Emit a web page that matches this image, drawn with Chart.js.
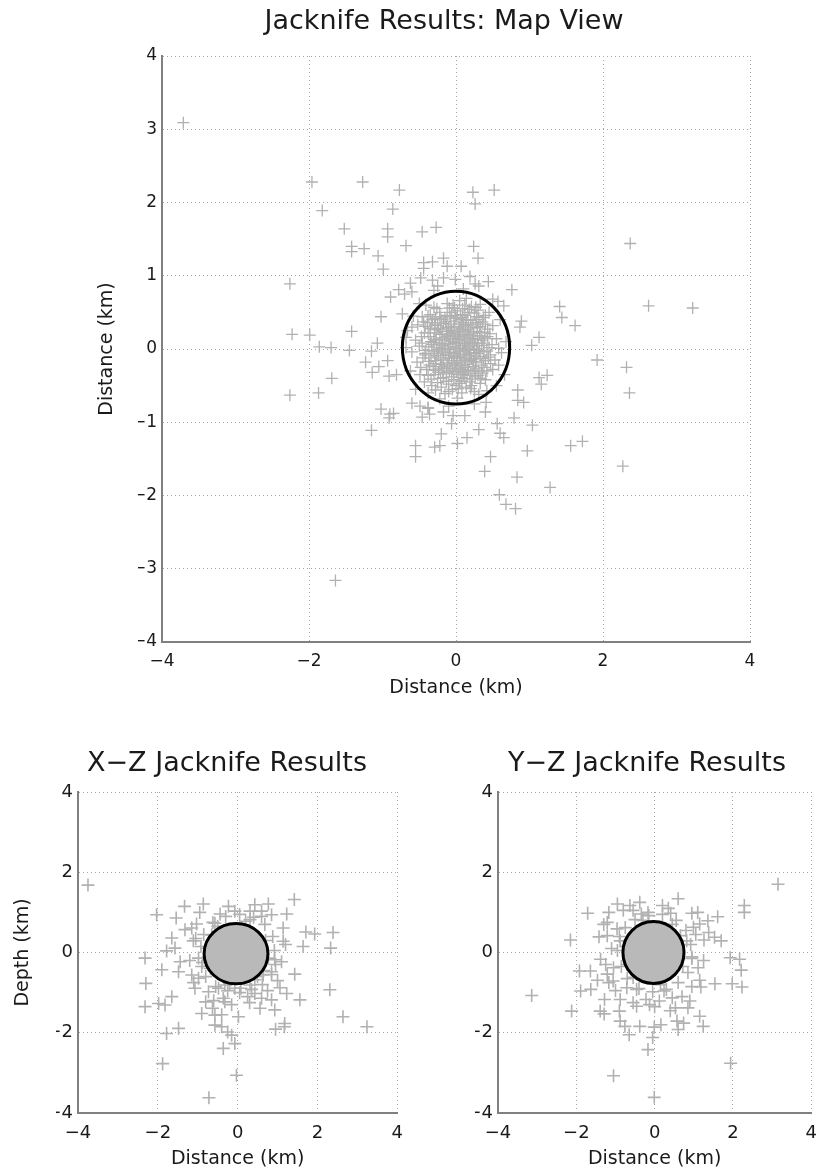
<!DOCTYPE html>
<html>
<head>
<meta charset="utf-8">
<title>Jacknife Results</title>
<script src="https://cdn.jsdelivr.net/npm/chart.js@4.4.0/dist/chart.umd.min.js"></script>
<style>
  html, body { margin: 0; padding: 0; background: #fff; overflow: hidden; width: 827px; height: 1172px; }
  canvas { position: absolute; }
</style>
</head>
<body>
<canvas id="map" width="827" height="720" style="left:0px;top:0px"></canvas>
<canvas id="xz" width="413" height="442" style="left:0px;top:730px"></canvas>
<canvas id="yz" width="414" height="442" style="left:413px;top:730px"></canvas>
<script>
// jacknife relocations, km from the reference hypocentre

// map view: [east, north]
const mapOutliers = [
  [-3.71,3.09],[-1.96,2.28],[-1.27,2.28],[-0.77,2.17],[0.23,2.14],[0.52,2.17],[0.26,1.98],[-1.82,1.89],
  [-0.86,1.91],[-1.52,1.64],[-0.93,1.64],[-0.93,1.53],[-0.46,1.60],[-0.27,1.66],[-1.42,1.40],[-1.25,1.37],
  [-1.42,1.33],[-0.68,1.41],[-1.06,1.27],[-0.99,1.09],[0.24,1.40],[0.30,1.24],[2.37,1.44],[-2.26,0.89],
  [2.62,0.59],[3.22,0.56],[1.41,0.58],[1.44,0.43],[1.62,0.32],[-2.23,0.20],[-1.99,0.19],[-1.42,0.24],
  [-1.86,0.03],[-1.70,0.02],[-1.45,-0.02],[-1.02,0.44],[-1.07,0.08],[-1.15,-0.03],[-1.23,-0.18],[-1.05,-0.24],
  [-1.14,-0.32],[-1.69,-0.40],[-2.26,-0.63],[-1.87,-0.60],[1.92,-0.15],[2.32,-0.25],[2.36,-0.60],[1.13,0.16],
  [1.03,0.05],[1.24,-0.36],[1.13,-0.39],[1.16,-0.48],[0.89,0.38],[0.87,0.30],[0.76,0.81],[0.44,0.92],
  [0.84,-0.56],[0.84,-0.70],[0.92,-0.73],[0.79,-0.94],[1.04,-1.04],[0.97,-1.39],[1.56,-1.32],[1.72,-1.26],
  [2.27,-1.60],[1.28,-1.89],[0.83,-1.75],[0.39,-1.67],[0.47,-1.47],[0.59,-1.99],[0.68,-2.12],[0.81,-2.18],
  [0.60,-1.15],[0.65,-1.21],[0.56,-1.02],[0.40,-0.86],[0.31,-1.10],[0.15,-1.21],[0.02,-1.29],[0.12,-0.91],
  [-0.06,-1.02],[-0.20,-1.16],[-0.22,-1.32],[-0.29,-1.34],[-0.55,-1.32],[-0.55,-1.47],[-1.15,-1.11],[-1.02,-0.82],
  [-0.90,-0.89],[-0.85,-0.88],[-0.91,-0.94],[-0.60,-0.74],[-0.49,-0.78],[-0.38,-0.81],[-0.36,-0.89],[-0.46,-0.93],
  [-0.17,-0.86],[-0.04,-0.91],[0.41,-0.73],[-0.81,-0.35],[-0.91,-0.37],[-0.93,-0.16],[-0.68,0.16],[-0.73,0.48],
  [-0.70,0.75],[-0.89,0.71],[-0.78,0.81],[-0.60,0.78],[-0.62,0.90],[-0.48,0.97],[-0.44,1.10],[-0.44,1.18],
  [-0.32,1.19],[-0.17,1.24],[-0.12,1.13],[0.07,1.13],[-0.01,0.95],[-0.17,0.97],[-0.32,0.94],[-0.25,0.86],
  [0.19,0.99],[0.26,0.89],[0.31,0.86],[0.57,0.65],[0.65,0.59],[-0.60,0.30],[-1.64,-3.16]
];
const mapCore = [
  [-0.12,0.62],[0.05,0.66],[0.21,0.58],[-0.30,0.57],[0.14,0.69],[-0.02,0.56],[0.33,0.61],[-0.41,0.60],
  [-0.35,0.47],[-0.22,0.50],[-0.08,0.44],[0.02,0.52],[0.12,0.46],[0.25,0.49],[0.37,0.43],[-0.15,0.41],
  [0.07,0.40],[0.30,0.53],[-0.46,0.44],[0.45,0.50],[-0.28,0.42],[0.18,0.54],
  [-0.42,0.31],[-0.33,0.36],[-0.24,0.28],[-0.17,0.35],[-0.10,0.29],[-0.03,0.38],[0.04,0.30],[0.10,0.36],
  [0.17,0.27],[0.23,0.34],[0.29,0.29],[0.36,0.37],[0.43,0.27],[-0.52,0.33],[0.50,0.32],[-0.06,0.25],
  [0.13,0.26],[-0.29,0.26],
  [-0.47,0.17],[-0.38,0.22],[-0.30,0.13],[-0.22,0.20],[-0.15,0.12],[-0.08,0.21],[-0.01,0.14],[0.06,0.20],
  [0.12,0.11],[0.19,0.18],[0.26,0.13],[0.32,0.22],[0.39,0.15],[0.46,0.21],[-0.55,0.12],[0.55,0.14],
  [-0.12,0.24],[0.02,0.23],[0.16,0.24],[-0.34,0.10],
  [-0.50,0.04],[-0.41,-0.02],[-0.33,0.06],[-0.26,-0.01],[-0.19,0.05],[-0.11,0.00],[-0.04,0.07],[0.03,-0.03],
  [0.09,0.05],[0.15,-0.02],[0.22,0.07],[0.28,0.00],[0.35,0.05],[0.42,-0.03],[0.49,0.06],[-0.60,-0.04],
  [0.58,0.01],[-0.07,-0.05],[0.19,0.09],[-0.22,0.08],
  [-0.45,-0.12],[-0.37,-0.17],[-0.29,-0.09],[-0.21,-0.15],[-0.14,-0.08],[-0.06,-0.16],[0.01,-0.10],[0.08,-0.18],
  [0.14,-0.07],[0.21,-0.14],[0.27,-0.19],[0.33,-0.10],[0.40,-0.16],[0.47,-0.08],[-0.53,-0.18],[0.53,-0.15],
  [-0.02,-0.20],[0.11,-0.12],
  [-0.40,-0.28],[-0.31,-0.24],[-0.24,-0.32],[-0.16,-0.26],[-0.09,-0.30],[-0.01,-0.23],[0.06,-0.31],[0.13,-0.25],
  [0.20,-0.33],[0.27,-0.27],[0.35,-0.22],[0.42,-0.30],[-0.48,-0.25],[0.50,-0.28],[0.03,-0.35],[-0.20,-0.21],
  [-0.34,-0.41],[-0.25,-0.46],[-0.17,-0.39],[-0.10,-0.48],[-0.03,-0.42],[0.05,-0.47],[0.12,-0.40],[0.19,-0.45],
  [0.26,-0.38],[0.33,-0.47],[0.40,-0.42],[-0.43,-0.45],[0.00,-0.50],
  [-0.28,-0.56],[-0.15,-0.61],[-0.05,-0.55],[0.08,-0.60],[0.20,-0.54],[0.31,-0.62],[-0.38,-0.60],[0.42,-0.57],
  [0.02,-0.67],[-0.22,-0.68],
  [-0.20,0.00],[-0.13,0.17],[-0.05,0.10],[0.05,0.13],[0.10,-0.04],[0.18,0.04],[0.24,0.22],[-0.17,-0.12],
  [-0.08,-0.26],[0.07,-0.22],[0.17,-0.29],[0.24,-0.05],[-0.25,0.32],[-0.02,0.31],[0.09,0.43],[0.20,0.39],
  [-0.12,0.46],[0.30,0.08],[-0.28,-0.20],[0.00,0.00],[0.04,0.08],[-0.10,0.07],[0.13,0.32],[-0.18,0.24],
  [0.26,-0.10],[-0.04,-0.12],[0.15,0.15],[-0.23,-0.27],[0.10,-0.35],[0.36,-0.33],[-0.32,0.40],[0.28,0.44],
  [0.62,-0.05],[0.58,-0.22],[0.68,0.10],[0.66,-0.35],[-0.62,-0.30],[-0.68,0.02],[-0.66,0.25],[-0.58,0.45],
  [-0.50,0.62],[-0.55,-0.55],[0.55,-0.50],[0.60,0.40],[0.50,0.68],[-0.30,0.80],[0.10,0.82],[-0.10,-0.78],
  [0.25,-0.75],[-0.38,-0.80],
  [-0.38,0.45],[-0.26,0.55],[-0.04,0.60],[0.09,0.55],[0.27,0.57],[0.40,0.46],
  [-0.39,0.36],[-0.29,0.33],[-0.20,0.40],[-0.13,0.30],[-0.07,0.34],[0.00,0.42],[0.07,0.34],[0.14,0.40],
  [0.20,0.30],[0.27,0.36],[0.33,0.31],[0.40,0.34],
  [-0.43,0.22],[-0.35,0.17],[-0.27,0.22],[-0.19,0.15],[-0.11,0.18],[-0.04,0.19],[0.03,0.17],[0.09,0.24],
  [0.16,0.20],[0.22,0.14],[0.29,0.18],[0.36,0.12],[0.43,0.17],
  [-0.46,0.08],[-0.37,0.03],[-0.30,0.09],[-0.23,0.02],[-0.16,0.07],[-0.08,0.03],[0.00,0.09],[0.06,0.01],
  [0.12,0.07],[0.18,0.00],[0.25,0.04],[0.32,-0.02],[0.38,0.08],[0.45,0.02],
  [-0.42,-0.06],[-0.34,-0.12],[-0.26,-0.06],[-0.18,-0.04],[-0.10,-0.12],[-0.03,-0.06],[0.05,-0.08],[0.12,-0.15],
  [0.18,-0.09],[0.24,-0.17],[0.30,-0.06],[0.37,-0.13],[0.44,-0.11],
  [-0.36,-0.22],[-0.27,-0.16],[-0.19,-0.24],[-0.12,-0.19],[-0.05,-0.27],[0.02,-0.16],[0.09,-0.28],[0.16,-0.21],
  [0.23,-0.24],[0.31,-0.30],[0.38,-0.25],
  [-0.30,-0.35],[-0.21,-0.40],[-0.13,-0.34],[-0.06,-0.38],[0.01,-0.31],[0.08,-0.44],[0.15,-0.36],[0.22,-0.41],
  [0.30,-0.36],[-0.38,-0.36],
  [-0.20,-0.52],[-0.10,-0.58],[0.03,-0.54],[0.14,-0.52],[0.25,-0.58],
  [-0.27,0.12],[-0.21,0.27],[-0.14,0.37],[-0.08,0.14],[-0.02,0.22],[0.05,0.27],[0.11,0.18],[0.17,0.33],
  [0.23,0.09],[0.29,0.24],[-0.31,-0.03],[-0.24,-0.09],[-0.15,-0.01],[-0.09,-0.09],[-0.01,0.03],[0.06,-0.12],
  [0.13,0.01],[0.20,-0.06],[0.27,-0.13],[0.34,0.18],[-0.28,-0.29],[-0.18,-0.32],[-0.11,-0.22],[-0.03,-0.33],
  [0.04,-0.26],[0.11,-0.30],[0.18,-0.16],[0.25,-0.30],[-0.35,0.28],[-0.22,0.44],[-0.06,0.50],[0.06,0.47],
  [0.16,0.50],[0.31,0.40],[-0.42,-0.08],[0.38,-0.04],[-0.13,-0.44],[0.07,-0.39],[0.21,-0.50],[-0.33,-0.50],
  [-0.01,0.46],[0.39,0.23],[-0.44,0.37],[0.47,-0.20],[-0.49,-0.35],[0.34,-0.40],[-0.09,0.56],[0.12,0.60]
];

// x-z section: [east, depth]
const xzPoints = [
  [-3.75,1.68],[3.24,-1.85],[2.64,-1.60],[2.31,-0.93],[1.42,1.32],[1.23,0.96],[1.14,0.61],[1.14,0.28],
  [0.77,1.21],[0.85,0.94],[0.43,1.19],[0.60,1.03],[1.71,0.51],[1.93,0.46],[2.39,0.50],[2.33,0.11],
  [1.64,0.15],[1.43,-0.54],[1.56,-1.18],[1.23,-1.02],[1.10,-0.23],[0.93,-0.18],[1.06,-0.88],[0.85,-1.18],
  [0.93,-1.43],[0.95,-1.91],[1.17,-1.85],[1.18,-1.77],[0.60,-1.14],[0.56,-1.39],[0.43,-1.02],[0.25,-1.10],
  [0.02,-1.60],[-0.07,-2.27],[-0.03,-3.06],[-0.72,-3.62],[-0.15,-2.06],[-0.25,-1.98],[-0.36,-2.39],[-0.40,-1.85],
  [-0.57,-1.81],[-0.57,-1.56],[-0.63,-1.39],[-0.90,-1.52],[-0.80,-1.23],[-0.73,-0.98],[-0.36,-1.14],[-0.32,-1.23],
  [-0.48,-0.89],[-0.07,-0.89],[0.08,-0.89],[-1.07,-0.89],[-1.15,-0.56],[-0.98,-0.64],[-1.48,-1.89],[-1.78,-2.02],
  [-1.88,-2.77],[-1.82,-1.31],[-1.98,-1.27],[-1.65,-1.10],[-2.32,-1.35],[-2.30,-0.77],[-2.32,-0.14],[-1.90,-0.43],
  [-1.78,0.04],[-1.48,-0.48],[-1.44,-0.23],[-1.57,0.11],[-1.65,0.36],[-1.54,0.86],[-1.33,1.15],[-2.03,0.94],
  [-0.86,1.21],[-1.03,0.71],[-1.15,0.61],[-1.11,0.29],[-1.32,0.57],[-0.44,0.96],[-0.23,1.15],[-0.07,1.03],
  [0.31,1.03],[0.31,0.82],[-0.57,0.73],[-0.65,0.44],[-0.98,-0.14],[-0.90,-0.35],[0.77,-0.14],[0.85,-0.48],
  [0.64,-0.56],[0.43,-0.68],[0.31,-0.81],[-0.15,-0.68],[-0.32,-0.81],
  [0.70,0.30],[-0.75,0.10],[0.50,-0.60],[-0.50,0.65],[0.65,-0.45],[-0.68,-0.40],[0.20,0.78],[-0.20,-0.78],
  [0.10,0.20],[-0.20,-0.10],[0.30,-0.30],[-0.35,0.30],[0.00,0.00],[0.25,0.40],[-0.10,-0.40],
  [-0.85,0.45],[-0.92,0.15],[-0.88,-0.25],[-0.80,-0.60],[-0.55,-0.85],[-0.25,-0.95],[0.05,-1.00],[0.35,-0.92],
  [0.62,-0.80],[0.85,-0.55],[0.95,-0.30],[0.92,0.05],[0.88,0.40],[0.68,0.70],[0.40,0.88],[0.05,0.95],
  [-0.30,0.90],[-0.62,0.75],[-1.05,0.35],[-1.20,-0.20],[-1.10,-0.75],[-0.60,-1.20],[-0.15,-1.30],[0.30,-1.25],
  [0.75,-0.95],[1.00,-0.70],[-0.95,1.00],[0.60,0.90],[1.20,0.20],[-0.40,-1.55]
];

// y-z section: [north, depth]
const yzPoints = [
  [3.15,1.70],[-3.14,-1.07],[-1.05,-3.07],[-0.01,-3.61],[1.94,-2.76],[-2.12,-1.46],[-2.15,0.31],[-1.71,0.98],
  [-1.92,-0.46],[-1.89,-0.96],[-1.63,-0.92],[-1.64,-0.46],[-1.39,-1.46],[-1.29,-1.53],[-1.28,-1.17],[-1.46,-0.69],
  [-1.38,-0.17],[-1.21,-0.54],[-1.17,-0.75],[-1.21,0.42],[-1.42,0.39],[-1.21,0.75],[-1.17,1.00],[-0.95,1.21],
  [-0.80,1.05],[-0.63,1.17],[-0.38,1.25],[-0.34,0.96],[-0.17,1.00],[0.20,1.17],[0.41,0.98],[0.60,1.34],
  [0.95,0.98],[1.10,1.00],[1.15,0.71],[1.36,0.79],[1.61,0.89],[1.38,0.50],[1.53,0.38],[1.70,0.29],
  [1.26,0.31],[2.29,1.17],[2.29,1.00],[1.93,-0.13],[2.17,-0.17],[2.21,-0.44],[1.98,-0.78],[2.23,-0.86],
  [1.54,-0.78],[1.15,-0.69],[1.18,-0.86],[1.11,-0.38],[0.95,-0.11],[0.90,-1.21],[0.85,-1.38],[1.15,-1.59],
  [1.24,-1.84],[0.74,-1.76],[0.60,-1.92],[0.57,-1.71],[0.53,-1.38],[0.45,-1.13],[0.16,-1.80],[-0.01,-1.86],
  [-0.05,-2.12],[-0.17,-2.42],[-0.38,-1.84],[-0.65,-2.05],[-0.76,-1.84],[-0.88,-1.71],[-0.90,-1.46],[-0.88,-1.17],
  [-0.46,-1.34],[-0.22,-1.17],[-0.13,-1.30],[0.12,-1.21],[0.24,-0.96],[-0.71,-0.88],[-0.46,-0.92],[-1.05,-0.38],
  [-1.06,-0.71],[-0.88,0.29],[-0.96,0.59],[0.99,0.63],[0.82,0.29],
  [0.72,-0.35],[-0.74,0.15],[0.45,0.70],[-0.55,-0.62],[0.66,0.42],[-0.30,0.80],[0.15,-0.80],[-0.70,-0.30],
  [0.05,0.10],[-0.20,0.25],[0.30,-0.20],[-0.25,-0.30],[0.20,0.35],[0.00,-0.05],
  [-0.90,0.40],[-0.95,0.05],[-0.85,-0.35],[-0.70,-0.65],[-0.40,-0.90],[-0.05,-0.98],[0.30,-0.92],[0.60,-0.75],
  [0.85,-0.50],[0.95,-0.15],[0.92,0.20],[0.80,0.55],[0.55,0.80],[0.20,0.95],[-0.15,0.92],[-0.50,0.82],
  [-0.75,0.62],[-1.10,0.10],[-1.25,-0.30],[-1.00,-0.95],[-0.55,-1.25],[0.00,-1.35],[0.40,-1.45],[0.95,-0.85],
  [1.25,-0.20],[1.05,0.45],[-0.55,1.05],[0.35,1.10],[-1.30,0.70],[0.70,-1.10]
];

// error ellipses: centre and semi-axes [horizontal, vertical]
const mapEllipse = [0.00, 0.02, 0.73, 0.77];
const xzEllipse = [-0.04, -0.03, 0.80, 0.75];
const yzEllipse = [-0.03, 0.00, 0.78, 0.77];

const fontFamily = "'DejaVu Sans', 'Liberation Sans', Arial, sans-serif";
const crossColor = '#b1b1b1';
const textColor = '#1a1a1a';

const minusSign = v => String(v).replace('-', '\u2212');

const ellipsePlugin = {
  id: 'errorEllipse',
  afterDatasetsDraw(chart, args, opts) {
    const { ctx, scales: { x, y } } = chart;
    const e = opts.ellipse;
    const cx = x.getPixelForValue(e[0]);
    const cy = y.getPixelForValue(e[1]);
    const rx = Math.abs(x.getPixelForValue(e[0] + e[2]) - cx);
    const ry = Math.abs(y.getPixelForValue(e[1] + e[3]) - cy);
    ctx.save();
    ctx.beginPath();
    ctx.ellipse(cx, cy, rx, ry, 0, 0, Math.PI * 2);
    if (opts.fill) {
      ctx.fillStyle = opts.fill;
      ctx.fill();
    }
    ctx.lineWidth = opts.lineWidth;
    ctx.strokeStyle = '#000';
    ctx.stroke();
    ctx.restore();
  }
};

function axis(step, tickSize, title, afterFit) {
  return {
    type: 'linear',
    min: -4,
    max: 4,
    ticks: {
      stepSize: step,
      padding: title.tickPad,
      color: textColor,
      font: { family: fontFamily, size: tickSize },
      callback: v => minusSign(v)
    },
    grid: { color: '#a8a8a8', lineWidth: 1, drawTicks: false },
    border: { display: true, color: '#808080', width: 2, dash: [1, 3] },
    title: {
      display: !!title.text,
      text: title.text,
      color: textColor,
      font: { family: fontFamily, size: 19, lineHeight: 1.2 },
      padding: title.padding
    },
    afterFit: afterFit
  };
}

function jacknifeChart(id, cfg) {
  return new Chart(document.getElementById(id), {
    type: 'scatter',
    data: {
      datasets: [{
        data: cfg.points.map(p => ({ x: p[0], y: p[1] })),
        pointStyle: 'cross',
        pointRadius: cfg.mark,
        pointBorderWidth: cfg.markWidth,
        pointBorderColor: crossColor,
        pointBackgroundColor: crossColor,
        borderColor: crossColor
      }]
    },
    plugins: [ellipsePlugin],
    options: {
      responsive: false,
      animation: false,
      devicePixelRatio: 1,
      events: [],
      // left/right padding also centres the title the way the original figure does
      layout: { padding: { left: cfg.padLeft, right: cfg.padRight, top: 0, bottom: 0 } },
      plugins: {
        legend: { display: false },
        tooltip: { enabled: false },
        title: {
          display: true,
          text: cfg.title,
          color: textColor,
          font: { family: fontFamily, size: 27, weight: 'normal', lineHeight: 1.2 },
          padding: cfg.titlePad
        },
        errorEllipse: { ellipse: cfg.ellipse, fill: cfg.fill, lineWidth: 3 }
      },
      scales: {
        x: axis(2, cfg.tickSize, { text: 'Distance (km)', tickPad: cfg.xTickPad, padding: { top: 0, bottom: cfg.xTitlePad } },
          s => { s.height = cfg.xHeight; }),
        y: axis(cfg.yStep, cfg.tickSize, { text: cfg.yTitle, tickPad: 5, padding: { top: cfg.yTitlePad, bottom: 0 } },
          s => { s.width = cfg.yWidth; })
      }
    }
  });
}

jacknifeChart('map', {
  title: 'Jacknife Results: Map View',
  titlePad: { top: 6, bottom: 17.6 },
  points: mapOutliers.concat(mapCore),
  ellipse: mapEllipse,
  fill: null,
  mark: 6,
  markWidth: 1.3,
  tickSize: 17,
  yStep: 1,
  yTitle: 'Distance (km)',
  yTitlePad: -42.4,
  padLeft: 138,
  padRight: 77,
  yWidth: 24,
  xHeight: 78,
  xTickPad: 9,
  xTitlePad: 20.6
});

jacknifeChart('xz', {
  title: 'X\u2212Z Jacknife Results',
  titlePad: { top: 17.3, bottom: 12.3 },
  points: xzPoints,
  ellipse: xzEllipse,
  fill: '#b9b9b9',
  mark: 6.5,
  markWidth: 1.6,
  tickSize: 18,
  yStep: 2,
  yTitle: 'Depth (km)',
  yTitlePad: -44.4,
  padLeft: 56,
  padRight: 15,
  yWidth: 22,
  xHeight: 59,
  xTickPad: 10,
  xTitlePad: 1.6
});

jacknifeChart('yz', {
  title: 'Y\u2212Z Jacknife Results',
  titlePad: { top: 17.3, bottom: 12.3 },
  points: yzPoints,
  ellipse: yzEllipse,
  fill: '#b9b9b9',
  mark: 6.5,
  markWidth: 1.6,
  tickSize: 18,
  yStep: 2,
  yTitle: '',
  yTitlePad: 0,
  padLeft: 62,
  padRight: 8,
  yWidth: 23,
  xHeight: 59,
  xTickPad: 10,
  xTitlePad: 1.6
});
</script>
</body>
</html>
